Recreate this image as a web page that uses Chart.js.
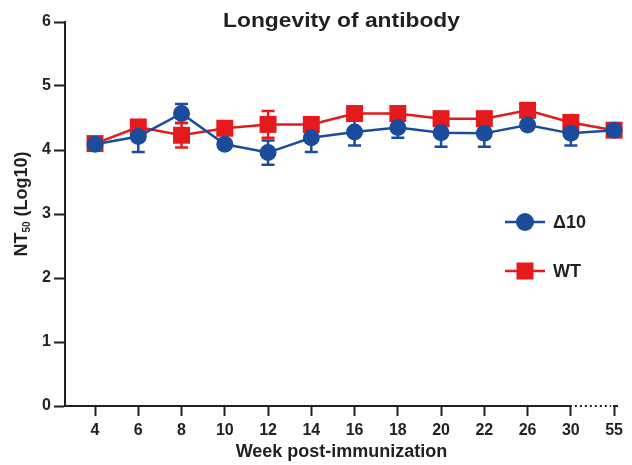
<!DOCTYPE html>
<html>
<head>
<meta charset="utf-8">
<script src="https://cdn.jsdelivr.net/npm/chart.js@4.4.0/dist/chart.umd.min.js"></script>
<style>
  html, body { margin: 0; padding: 0; background: #fff; }
</style>
</head>
<body>
<canvas id="longevityChart" width="632" height="465"></canvas>
<script>
// Values (log10 NT50, mean and error)
const weeks = ['4', '6', '8', '10', '12', '14', '16', '18', '20', '22', '26', '30', '55'];
const d10Mean = [4.09, 4.21, 4.57, 4.09, 3.96, 4.19, 4.28, 4.35, 4.27, 4.26, 4.39, 4.26, 4.31];
const d10Err  = [0.05, 0.24, 0.15, 0.05, 0.19, 0.22, 0.21, 0.16, 0.22, 0.21, 0.06, 0.19, 0.04];
const wtMean  = [4.10, 4.36, 4.23, 4.34, 4.40, 4.40, 4.57, 4.57, 4.49, 4.49, 4.62, 4.43, 4.31];
const wtErr   = [0.06, 0.09, 0.19, 0.06, 0.21, 0.08, 0.08, 0.07, 0.06, 0.06, 0.07, 0.07, 0.05];
const yTicks = [0, 1, 2, 3, 4, 5, 6];

const ink = '#231f20';
const blue = '#1b4c9c';
const red = '#e41a1c';
const fontFamily = '"Liberation Sans", Arial, sans-serif';

// error bars go under every line and marker
const errorBars = {
    id: 'errorBars',
    beforeDatasetsDraw(chart) {
        const ctx = chart.ctx;
        const xs = chart.scales.x, ys = chart.scales.y;
        ctx.save();
        ctx.lineWidth = 2.5;
        chart.data.datasets.forEach(ds => {
            ctx.strokeStyle = ds.borderColor;
            ds.data.forEach((p, i) => {
                const px = xs.getPixelForValue(p.x);
                const top = ys.getPixelForValue(p.y + ds.errors[i]);
                const bot = ys.getPixelForValue(p.y - ds.errors[i]);
                ctx.beginPath();
                ctx.moveTo(px, top); ctx.lineTo(px, bot);
                ctx.moveTo(px - 6.5, top); ctx.lineTo(px + 6.5, top);
                ctx.moveTo(px - 6.5, bot); ctx.lineTo(px + 6.5, bot);
                ctx.stroke();
            });
        });
        ctx.restore();
    }
};

// x axis line with the broken (dotted) part between 30 and 55
const brokenAxis = {
    id: 'brokenAxis',
    beforeDatasetsDraw(chart) {
        const ctx = chart.ctx;
        const xs = chart.scales.x;
        const area = chart.chartArea;
        const y = area.bottom;
        const p30 = xs.getPixelForValue(11);
        const p55 = xs.getPixelForValue(12);
        ctx.save();
        ctx.strokeStyle = ink;
        ctx.lineWidth = 2;
        ctx.beginPath();
        ctx.moveTo(area.left - 1, y); ctx.lineTo(p30 + 1, y);
        ctx.moveTo(p55 - 1, y); ctx.lineTo(area.right, y);
        ctx.stroke();
        ctx.setLineDash([2, 3]);
        ctx.beginPath();
        ctx.moveTo(p30 + 4, y); ctx.lineTo(p55 - 3, y);
        ctx.stroke();
        ctx.restore();
    }
};

// title, y axis title (with subscript) and the legend
const labels = {
    id: 'labels',
    afterDraw(chart) {
        const ctx = chart.ctx;
        const area = chart.chartArea;
        ctx.save();
        ctx.fillStyle = ink;

        // title, a little wider like the original lettering
        ctx.save();
        ctx.translate((area.left + area.right) / 2, 21);
        ctx.scale(1.14, 1);
        ctx.font = 'bold 20px ' + fontFamily;
        ctx.textAlign = 'center';
        ctx.textBaseline = 'middle';
        ctx.fillText('Longevity of antibody', 0, 0);
        ctx.restore();

        // y axis title
        ctx.save();
        ctx.translate(27, 204);
        ctx.rotate(-Math.PI / 2);
        ctx.textAlign = 'left';
        ctx.textBaseline = 'alphabetic';
        const big = 'bold 18px ' + fontFamily;
        const small = 'bold 10px ' + fontFamily;
        ctx.font = big;
        const wNT = ctx.measureText('NT').width;
        const wRest = ctx.measureText(' (Log10)').width;
        ctx.font = small;
        const wSub = ctx.measureText('50').width;
        let x = -(wNT + wSub + wRest) / 2;
        ctx.font = big;
        ctx.fillText('NT', x, 0);
        x += wNT;
        ctx.font = small;
        ctx.fillText('50', x, 3);
        x += wSub;
        ctx.font = big;
        ctx.fillText(' (Log10)', x, 0);
        ctx.restore();

        // legend
        const rows = [{ ds: chart.data.datasets[0], y: 222 }, { ds: chart.data.datasets[1], y: 271 }];
        rows.forEach(r => {
            ctx.strokeStyle = r.ds.borderColor;
            ctx.fillStyle = r.ds.borderColor;
            ctx.lineWidth = 2.5;
            ctx.beginPath();
            ctx.moveTo(505, r.y); ctx.lineTo(545, r.y);
            ctx.stroke();
            if (r.ds.pointStyle === 'circle') {
                ctx.beginPath();
                ctx.arc(525, r.y, 9, 0, Math.PI * 2);
                ctx.fill();
            } else {
                ctx.fillRect(525 - 8.5, r.y - 8.5, 17, 17);
            }
            ctx.fillStyle = ink;
            ctx.font = 'bold 18px ' + fontFamily;
            ctx.textAlign = 'left';
            ctx.textBaseline = 'middle';
            ctx.fillText(r.ds.label, 553, r.y + 1);
        });
        ctx.restore();
    }
};

const ctx1 = document.getElementById('longevityChart').getContext('2d');
const longevityChart = new Chart(ctx1, {
    type: 'line',
    data: {
        datasets: [{
            label: '\u039410',
            data: d10Mean.map((v, i) => ({ x: i, y: v })),
            errors: d10Err,
            borderColor: blue,
            backgroundColor: blue,
            borderWidth: 2.5,
            pointStyle: 'circle',
            pointRadius: 8.5,
            pointBorderWidth: 0,
            tension: 0,
            clip: false
        }, {
            label: 'WT',
            data: wtMean.map((v, i) => ({ x: i, y: v })),
            errors: wtErr,
            borderColor: red,
            backgroundColor: red,
            borderWidth: 2.5,
            pointStyle: 'rect',
            pointRadius: 12,
            pointBorderWidth: 0,
            tension: 0,
            clip: false
        }]
    },
    options: {
        responsive: false,
        animation: false,
        devicePixelRatio: 1,
        layout: { padding: { top: 22, right: 14, left: 0, bottom: 0 } },
        plugins: {
            legend: { display: false },
            tooltip: { enabled: false }
        },
        scales: {
            x: {
                type: 'linear',
                min: -0.694,
                max: 12.09,
                afterBuildTicks: scale => { scale.ticks = weeks.map((w, i) => ({ value: i })); },
                afterFit: scale => { scale.height = 59; },
                border: { display: false },
                grid: {
                    drawOnChartArea: false,
                    drawTicks: true,
                    tickLength: 10,
                    tickWidth: 2,
                    tickColor: ink
                },
                ticks: {
                    autoSkip: false,
                    maxRotation: 0,
                    padding: 5,
                    color: ink,
                    font: { family: fontFamily, size: 16, weight: 'bold' },
                    callback: v => weeks[v]
                },
                title: {
                    display: true,
                    text: 'Week post-immunization',
                    color: ink,
                    font: { family: fontFamily, size: 18, weight: 'bold' },
                    padding: { top: 0, bottom: 2 }
                }
            },
            y: {
                min: 0,
                max: 6,
                afterBuildTicks: scale => { scale.ticks = yTicks.map(v => ({ value: v })); },
                afterFit: scale => { scale.width = 65; },
                border: { display: true, width: 2, color: ink },
                grid: {
                    drawOnChartArea: false,
                    drawTicks: true,
                    tickLength: 11,
                    tickWidth: 2,
                    tickColor: ink
                },
                ticks: {
                    padding: 3,
                    color: ink,
                    font: { family: fontFamily, size: 16, weight: 'bold' }
                }
            }
        }
    },
    plugins: [errorBars, brokenAxis, labels]
});
</script>
</body>
</html>
